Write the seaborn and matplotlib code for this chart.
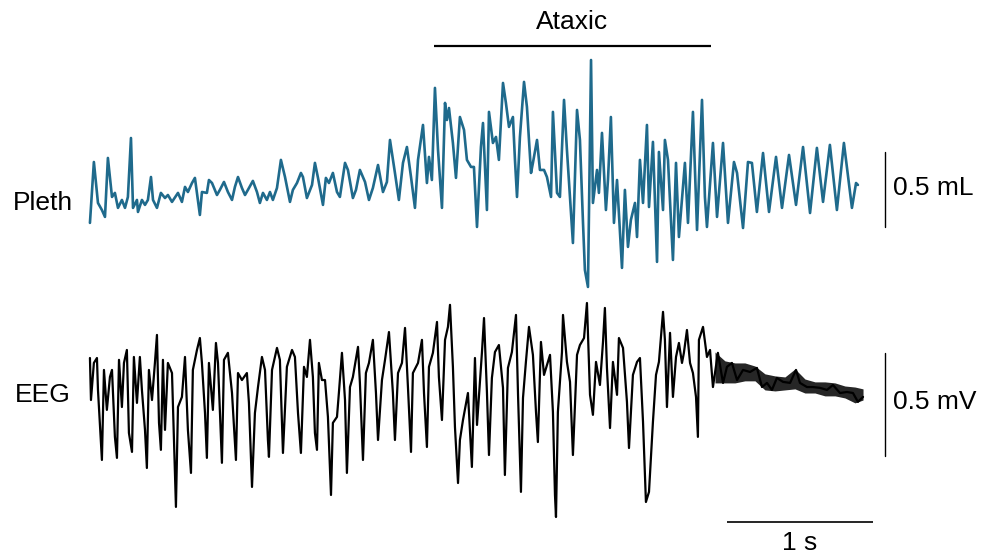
import numpy as np
import pandas as pd
import matplotlib
matplotlib.use("Agg")
import matplotlib.pyplot as plt
import seaborn as sns

# ---------------------------------------------------------------
# Plethysmography trace (time in s, volume in mL), three epochs
# ---------------------------------------------------------------
pleth_t_pre = [0.000, 0.027, 0.055, 0.082, 0.103, 0.123, 0.151, 0.171, 0.192, 0.219,
               0.240, 0.260, 0.281, 0.295, 0.322, 0.329, 0.356, 0.377, 0.397, 0.418,
               0.432, 0.459, 0.486, 0.514, 0.534, 0.562, 0.603, 0.630, 0.651, 0.671,
               0.699, 0.719, 0.753, 0.767, 0.801, 0.815, 0.836, 0.870, 0.890, 0.918,
               0.945, 0.973, 0.993, 1.014, 1.041, 1.062, 1.082, 1.116, 1.144, 1.164,
               1.185, 1.212, 1.233, 1.253, 1.281, 1.308, 1.336, 1.370, 1.390, 1.418,
               1.445, 1.459, 1.486, 1.521, 1.541, 1.562, 1.596, 1.616, 1.637, 1.664,
               1.692, 1.712, 1.747, 1.767, 1.801, 1.822, 1.849, 1.884, 1.911, 1.938,
               1.973, 2.007, 2.034, 2.055, 2.089, 2.116, 2.144, 2.171, 2.199, 2.226]
pleth_ml_pre = [-0.153, 0.253, -0.020, -0.067, -0.113, 0.280, 0.020, 0.047, -0.053, 0.000,
                -0.053, 0.020, 0.413, -0.053, 0.000, -0.080, 0.000, -0.033, 0.000, 0.153,
                0.000, -0.053, 0.047, 0.013, 0.033, -0.013, 0.047, -0.013, 0.087, 0.053,
                0.113, 0.147, -0.100, 0.053, 0.047, 0.133, 0.113, 0.033, 0.067, 0.120,
                0.053, 0.000, 0.087, 0.153, 0.080, 0.033, 0.067, 0.127, 0.053, -0.020,
                0.047, 0.000, 0.053, 0.000, 0.080, 0.267, 0.153, -0.013, 0.067, 0.113,
                0.180, 0.153, 0.013, 0.100, 0.247, 0.147, -0.033, 0.147, 0.113, 0.180,
                0.053, 0.020, 0.247, 0.200, 0.013, 0.067, 0.200, 0.120, 0.000, 0.080,
                0.233, 0.053, 0.120, 0.400, 0.180, 0.000, 0.247, 0.353, 0.153, -0.053]

pleth_t_ataxic = [2.247, 2.281, 2.308, 2.322, 2.342, 2.363, 2.384, 2.411, 2.432, 2.445,
                  2.459, 2.486, 2.507, 2.534, 2.562, 2.582, 2.610, 2.630, 2.651, 2.678,
                  2.692, 2.719, 2.733, 2.760, 2.781, 2.801, 2.829, 2.849, 2.870, 2.897,
                  2.911, 2.925, 2.945, 2.973, 2.993, 3.021, 3.034, 3.062, 3.082, 3.110,
                  3.130, 3.158, 3.171, 3.199, 3.219, 3.247, 3.267, 3.288, 3.308, 3.336,
                  3.356, 3.377, 3.390, 3.411, 3.432, 3.445, 3.473, 3.486, 3.507, 3.534,
                  3.548, 3.568, 3.589, 3.610, 3.644, 3.664, 3.685, 3.705, 3.733, 3.747,
                  3.767, 3.788, 3.815, 3.829, 3.856, 3.884, 3.897, 3.925, 3.938, 3.959,
                  3.993, 4.014, 4.034, 4.075, 4.096, 4.130, 4.158, 4.192, 4.212, 4.226]
pleth_ml_ataxic = [0.267, 0.500, 0.113, 0.287, 0.133, 0.747, 0.333, -0.053, 0.647, 0.533,
                   0.613, 0.380, 0.147, 0.553, 0.467, 0.267, 0.220, 0.220, -0.180, 0.353,
                   0.513, -0.067, 0.587, 0.380, 0.420, 0.267, 0.780, 0.647, 0.487, 0.553,
                   0.267, 0.020, 0.420, 0.787, 0.620, 0.180, 0.247, 0.400, 0.200, 0.200,
                   0.153, 0.020, 0.587, 0.047, 0.020, 0.667, 0.333, 0.020, -0.287, 0.600,
                   0.400, -0.153, -0.467, -0.580, 0.933, -0.020, 0.200, 0.047, 0.447, -0.067,
                   0.133, 0.553, -0.153, 0.133, -0.453, 0.067, -0.313, -0.133, -0.020, -0.247,
                   0.267, -0.020, 0.500, -0.047, 0.387, -0.413, 0.320, -0.067, 0.400, 0.267,
                   -0.400, 0.247, -0.247, 0.247, -0.153, 0.587, -0.200, 0.667, 0.020, -0.180]

pleth_t_post = [4.267, 4.295, 4.336, 4.370, 4.411, 4.432, 4.473, 4.507, 4.534, 4.568,
                4.610, 4.651, 4.699, 4.740, 4.788, 4.836, 4.884, 4.932, 4.979, 5.021,
                5.068, 5.116, 5.164, 5.219, 5.247, 5.260]
pleth_ml_post = [0.380, -0.113, 0.380, -0.153, 0.253, 0.180, -0.187, 0.253, 0.247, -0.080,
                 0.313, -0.080, 0.287, -0.053, 0.300, -0.033, 0.353, -0.087, 0.347, -0.013,
                 0.367, -0.067, 0.380, -0.053, 0.113, 0.100]

# ---------------------------------------------------------------
# EEG trace (time in s, potential in mV), four segments
# ---------------------------------------------------------------
eeg_t_1 = [0.000, 0.007, 0.027, 0.048, 0.055, 0.075, 0.082, 0.096, 0.116, 0.137,
           0.151, 0.171, 0.185, 0.199, 0.219, 0.233, 0.253, 0.267, 0.288, 0.301,
           0.322, 0.342, 0.356, 0.377, 0.390, 0.404, 0.425, 0.445, 0.459, 0.473,
           0.486, 0.500, 0.514, 0.534, 0.562, 0.582, 0.589, 0.603, 0.630, 0.651,
           0.671, 0.692, 0.705, 0.733, 0.753, 0.767, 0.788, 0.801, 0.815, 0.842,
           0.863, 0.877, 0.904, 0.918, 0.945, 0.973, 1.000, 1.014, 1.041, 1.075,
           1.089, 1.110, 1.130, 1.151, 1.178, 1.199, 1.219, 1.226, 1.247, 1.281,
           1.301]
eeg_mv_1 = [0.058, -0.146, 0.034, 0.058, -0.097, -0.354, -0.437, 0.000, -0.194, -0.034,
            0.000, -0.325, -0.427, 0.049, -0.180, 0.034, 0.097, -0.306, -0.398, 0.063,
            -0.160, 0.063, -0.097, -0.291, -0.476, 0.000, -0.146, 0.034, 0.170, -0.257,
            -0.388, 0.049, -0.291, 0.034, -0.015, -0.500, -0.665, -0.180, -0.131, 0.063,
            -0.291, -0.500, 0.000, 0.097, 0.155, 0.034, -0.209, -0.427, 0.034, -0.194,
            0.131, 0.034, -0.451, 0.049, 0.083, -0.112, -0.437, -0.015, -0.049, -0.015,
            -0.160, -0.568, -0.209, -0.083, 0.063, 0.000, -0.340, -0.422, 0.000, 0.107,
            0.049]

eeg_t_2 = [1.322, 1.349, 1.384, 1.404, 1.425, 1.445, 1.466, 1.486, 1.507, 1.527,
           1.541, 1.555, 1.568, 1.589, 1.610, 1.630, 1.651, 1.664, 1.692, 1.705,
           1.726, 1.747, 1.760, 1.781, 1.801, 1.836, 1.849, 1.870, 1.890, 1.911,
           1.938, 1.959, 1.973, 2.000, 2.021, 2.048, 2.075, 2.089, 2.110, 2.137,
           2.158, 2.178, 2.199, 2.212, 2.247, 2.274, 2.288, 2.308, 2.322, 2.349,
           2.377, 2.390, 2.411, 2.432, 2.452, 2.466, 2.486, 2.500, 2.521, 2.534,
           2.555, 2.589, 2.616, 2.637]
eeg_mv_2 = [-0.403, 0.015, 0.097, 0.063, -0.209, -0.403, 0.015, -0.034, 0.146, -0.034,
            -0.306, -0.388, 0.034, -0.049, -0.049, -0.228, -0.607, -0.257, -0.228, -0.112,
            0.083, -0.146, -0.500, -0.083, -0.034, 0.112, -0.063, -0.437, -0.015, 0.034,
            0.146, -0.112, -0.340, -0.049, 0.049, 0.184, -0.112, -0.340, -0.015, 0.034,
            0.204, -0.083, -0.398, -0.015, 0.034, 0.146, -0.112, -0.374, 0.015, 0.083,
            0.233, -0.034, -0.243, 0.146, 0.209, 0.316, 0.015, -0.277, -0.549, -0.340,
            -0.243, -0.112, -0.471, 0.058]

eeg_t_3 = [2.651, 2.685, 2.699, 2.719, 2.733, 2.753, 2.774, 2.801, 2.829, 2.842,
           2.863, 2.890, 2.918, 2.932, 2.952, 2.966, 2.986, 3.007, 3.034, 3.055,
           3.068, 3.089, 3.110, 3.130, 3.151, 3.171, 3.185, 3.192, 3.205, 3.233,
           3.240, 3.267, 3.288, 3.308, 3.336, 3.356, 3.384, 3.404, 3.425, 3.445,
           3.466, 3.493, 3.514, 3.527, 3.541, 3.562, 3.582, 3.610, 3.623, 3.651,
           3.678, 3.692, 3.719, 3.747, 3.767, 3.788, 3.808, 3.829, 3.856, 3.877,
           3.897]
eeg_mv_3 = [-0.267, 0.087, 0.252, -0.107, -0.413, -0.039, 0.087, 0.121, -0.087, -0.510,
            0.010, 0.087, 0.267, -0.121, -0.592, -0.136, 0.039, 0.209, 0.073, -0.204,
            -0.350, 0.136, -0.024, 0.024, 0.073, -0.204, -0.607, -0.714, -0.204, 0.087,
            0.267, 0.039, -0.058, -0.413, 0.073, 0.121, 0.155, 0.325, -0.121, -0.218,
            0.039, -0.073, 0.136, 0.301, 0.010, -0.282, 0.039, -0.121, 0.155, 0.107,
            -0.155, -0.379, -0.024, 0.039, 0.058, -0.252, -0.641, -0.592, -0.252, -0.024,
            0.039]

eeg_t_4 = [3.925, 3.938, 3.952, 3.973, 3.993, 4.014, 4.034, 4.055, 4.068, 4.089,
           4.110, 4.130, 4.151, 4.164, 4.171, 4.199, 4.226, 4.247, 4.267, 4.301,
           4.336, 4.363, 4.397, 4.432, 4.473, 4.521, 4.568, 4.603, 4.637, 4.671,
           4.705, 4.747, 4.795, 4.836, 4.863, 4.911, 4.952, 5.000, 5.048, 5.089,
           5.137, 5.185, 5.226, 5.260, 5.295]
eeg_mv_4 = [0.282, 0.146, -0.180, 0.180, -0.131, 0.063, 0.131, 0.034, 0.083, 0.194,
            0.034, -0.015, -0.131, -0.325, 0.146, 0.209, 0.063, 0.097, -0.083, 0.083,
            -0.063, 0.015, 0.034, -0.049, 0.000, -0.010, 0.010, -0.083, -0.063, -0.097,
            -0.039, -0.058, -0.063, 0.000, -0.063, -0.083, -0.083, -0.087, -0.097, -0.073,
            -0.112, -0.107, -0.112, -0.155, -0.131]

# Envelope of the fast low-amplitude activity after the event
eeg_band_t = [4.281, 4.349, 4.418, 4.486, 4.555, 4.623, 4.692, 4.760, 4.829, 4.897,
              4.966, 5.034, 5.103, 5.171, 5.240, 5.295]
eeg_band_hi = [0.087, 0.044, 0.034, 0.034, 0.019, -0.019, -0.029, -0.034, 0.005, -0.044,
               -0.058, -0.058, -0.063, -0.078, -0.083, -0.092]
eeg_band_lo = [-0.063, -0.063, -0.063, -0.053, -0.053, -0.097, -0.102, -0.097, -0.092, -0.112,
               -0.112, -0.126, -0.126, -0.136, -0.160, -0.146]

# Annotation values
ataxic_span = (2.356, 4.253)   # s
time_bar = (4.363, 5.363)      # 1 s
vol_bar = (-0.18, 0.32)        # 0.5 mL
volt_bar = (-0.417, 0.083)     # 0.5 mV

PLETH_COLOR = "#1f6a8c"

sns.set_style("white")
plt.rcParams["font.family"] = ["Liberation Sans", "DejaVu Sans"]
plt.rcParams["text.color"] = "black"

pleth = pd.DataFrame({
    "time": pleth_t_pre + pleth_t_ataxic + pleth_t_post,
    "volume": pleth_ml_pre + pleth_ml_ataxic + pleth_ml_post,
})
eeg = pd.DataFrame({
    "time": eeg_t_1 + eeg_t_2 + eeg_t_3 + eeg_t_4,
    "potential": eeg_mv_1 + eeg_mv_2 + eeg_mv_3 + eeg_mv_4,
})

fig = plt.figure(figsize=(9.87, 5.58), dpi=100)
xlim = (-0.616, 6.144)

# Upper trace axes
ax_p = fig.add_axes([0, 0, 1, 1])
ax_p.set_xlim(*xlim)
ax_p.set_ylim(-2.387, 1.333)
ax_p.axis("off")
sns.lineplot(data=pleth, x="time", y="volume", ax=ax_p, sort=False,
             estimator=None, color=PLETH_COLOR, linewidth=1.9)

# Lower trace axes (shares the time scale)
ax_e = fig.add_axes([0, 0, 1, 1])
ax_e.patch.set_alpha(0)
ax_e.set_xlim(*xlim)
ax_e.set_ylim(-0.913, 1.796)
ax_e.axis("off")
ax_e.fill_between(eeg_band_t, eeg_band_lo, eeg_band_hi, color="black",
                  alpha=0.85, linewidth=0)
sns.lineplot(data=eeg, x="time", y="potential", ax=ax_e, sort=False,
             estimator=None, color="black", linewidth=1.6)

# Trace labels
ax_p.text(-0.322, -0.02, "Pleth", ha="center", va="center", fontsize=19)
ax_e.text(-0.322, -0.121, "EEG", ha="center", va="center", fontsize=19)

# Ataxic epoch marker
ax_p.plot(ataxic_span, [1.027, 1.027], color="black", linewidth=1.6,
          solid_capstyle="butt")
ax_p.text(sum(ataxic_span) / 2, 1.187, "Ataxic", ha="center", va="center",
          fontsize=19)

# Vertical scale bars
ax_p.plot([5.445, 5.445], vol_bar, color="black", linewidth=1.0)
ax_p.text(5.50, 0.08, "0.5 mL", ha="left", va="center", fontsize=19)
ax_e.plot([5.445, 5.445], volt_bar, color="black", linewidth=1.0)
ax_e.text(5.50, -0.155, "0.5 mV", ha="left", va="center", fontsize=19)

# Time scale bar
ax_e.plot(time_bar, [-0.738, -0.738], color="black", linewidth=1.2,
          solid_capstyle="butt")
ax_e.text(sum(time_bar) / 2, -0.84, "1 s", ha="center", va="center", fontsize=19)

fig.savefig("out.png", dpi=100)
